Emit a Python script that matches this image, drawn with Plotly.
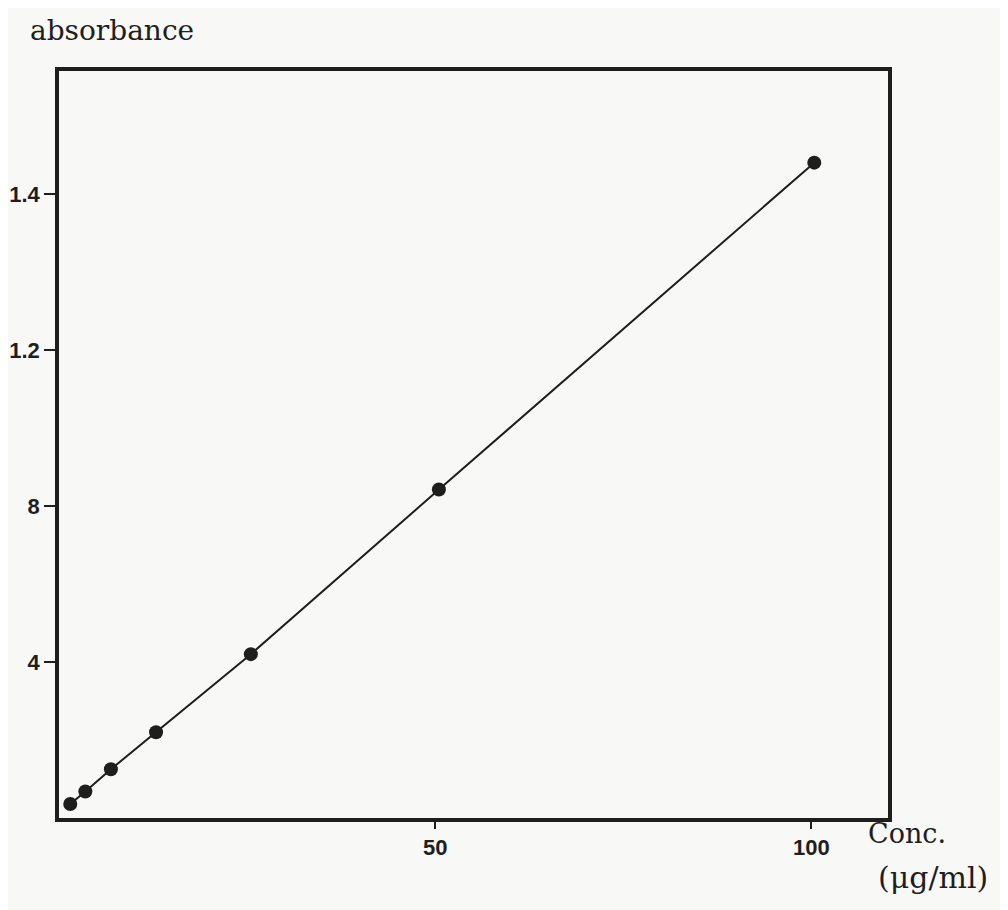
import plotly.graph_objects as go

conc = [1.5, 3.5, 6.9, 12.9, 25.5, 50.5, 100.4]
absorbance = [0.036, 0.068, 0.125, 0.220, 0.420, 0.842, 1.680]

x_tickvals = [50, 100]
x_ticktext = ["50", "100"]
y_tickvals = [0.4, 0.8, 1.2, 1.6]
y_ticktext = ["4", "8", "1.2", "1.4"]

ink = "#1e1e1e"
paper = "#f8f8f6"

fig = go.Figure()
fig.add_trace(go.Scatter(
    x=conc, y=absorbance, mode="lines+markers",
    line=dict(color=ink, width=2),
    marker=dict(color=ink, size=14),
    showlegend=False, hoverinfo="skip",
))

tickfont = dict(family="Liberation Sans", size=22, color=ink, weight="bold")

fig.update_layout(
    width=1008, height=910,
    margin=dict(l=51, r=128, t=63, b=100),
    paper_bgcolor=paper, plot_bgcolor=paper,
    font=dict(family="Liberation Sans", color=ink),
    xaxis=dict(
        range=[0, 110.2], tickvals=x_tickvals, ticktext=x_ticktext,
        showgrid=False, zeroline=False, automargin=False,
        showline=True, linewidth=3.5, linecolor=ink, mirror=True,
        ticks="outside", ticklen=7, tickwidth=2, tickcolor=ink,
        tickfont=tickfont,
    ),
    yaxis=dict(
        range=[0, 1.915], tickvals=y_tickvals, ticktext=y_ticktext,
        showgrid=False, zeroline=False, automargin=False,
        showline=True, linewidth=3.5, linecolor=ink, mirror=True,
        ticks="outside", ticklen=11, tickwidth=2, tickcolor=ink,
        tickfont=tickfont,
    ),
    annotations=[
        dict(text="absorbance", xref="paper", yref="paper", x=0.0, y=1.0,
             xanchor="left", yanchor="bottom", xshift=-31, yshift=22, showarrow=False,
             font=dict(family="DejaVu Serif", size=28, color=ink)),
        dict(text="Conc.", xref="paper", yref="paper", x=1.0, y=0.0,
             xanchor="left", yanchor="top", xshift=-22, yshift=2, showarrow=False,
             font=dict(family="DejaVu Serif", size=27, color=ink)),
        dict(text="(μg/ml)", xref="paper", yref="paper", x=1.0, y=0.0,
             xanchor="left", yanchor="top", xshift=-12, yshift=-40, showarrow=False,
             font=dict(family="DejaVu Serif", size=30, color=ink)),
    ],
)

fig.write_html("out.html")
